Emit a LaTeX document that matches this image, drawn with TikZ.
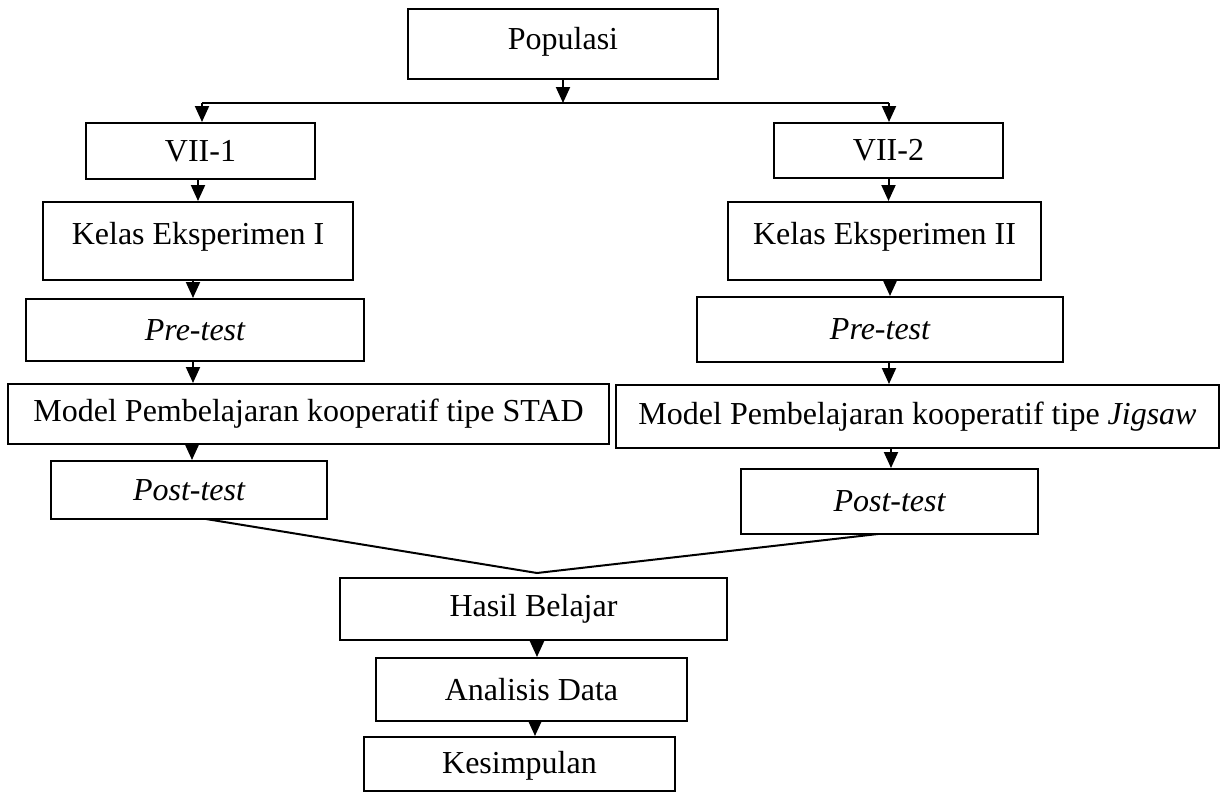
\documentclass[tikz,border=0pt]{standalone}
\usepackage{fontspec}
\setmainfont{Liberation Serif}
\usetikzlibrary{arrows.meta,calc}
\tikzset{
  bx/.style={draw, line width=2pt, rectangle, inner sep=0pt, font=\fontsize{32}{38}\selectfont},
  conn/.style={line width=2pt},
  arr/.style={line width=2pt, -{Triangle[length=16pt,width=14pt]}},
}
\begin{document}
\begin{tikzpicture}[x=1pt,y=-1pt]
\useasboundingbox (0,0) rectangle (1229,792);
\node[bx, minimum width=310pt, minimum height=70pt, text depth=12pt] (pop) at (563,44) {Populasi};
\node[bx, minimum width=229pt, minimum height=56pt] (v1) at (200.5,151) {VII-1};
\node[bx, minimum width=229pt, minimum height=55pt] (v2) at (888.5,150.5) {VII-2};
\node[bx, minimum width=310pt, minimum height=78pt, text depth=16pt] (k1) at (198,241) {Kelas Eksperimen I};
\node[bx, minimum width=313pt, minimum height=78pt, text depth=16pt] (k2) at (884.5,241) {Kelas Eksperimen II};
\node[bx, minimum width=338pt, minimum height=62pt] (p1) at (195,330) {\itshape Pre-test};
\node[bx, minimum width=366pt, minimum height=65pt] (p2) at (880,329.5) {\itshape Pre-test};
\node[bx, minimum width=601pt, minimum height=60pt] (m1) at (308.5,414) {Model Pembelajaran kooperatif tipe STAD};
\node[bx, minimum width=603pt, minimum height=63pt] (m2) at (917.5,416.5) {Model Pembelajaran kooperatif tipe \textit{Jigsaw}};
\node[bx, minimum width=276pt, minimum height=58pt] (o1) at (189,490) {\itshape Post-test};
\node[bx, minimum width=297pt, minimum height=65pt] (o2) at (889.5,501.5) {\itshape Post-test};
\node[bx, minimum width=387pt, minimum height=62pt] (h) at (533.5,609) {Hasil Belajar};
\node[bx, minimum width=311pt, minimum height=63pt] (a) at (531.5,689.5) {Analisis Data};
\node[bx, minimum width=311pt, minimum height=54pt, text height=26pt] (k) at (519.5,764) {Kesimpulan};
% helper columns
\coordinate (jm) at (563,103);
\coordinate (jl) at (202,103);
\coordinate (jr) at (889,103);
\coordinate (xa) at (198,0);
\coordinate (xb) at (193,0);
\coordinate (xc) at (192,0);
\coordinate (xd) at (888.5,0);
\coordinate (xe) at (890,0);
\coordinate (xf) at (889,0);
\coordinate (xg) at (891,0);
\coordinate (xh) at (537,0);
\coordinate (xi) at (535,0);
\coordinate (apex) at (537,573);
\coordinate (o1s) at (206,519);
\coordinate (o2s) at (878,534);
% split
\draw[arr] (pop.south) -- (jm);
\draw[conn] (jl) -- (jr);
\draw[arr] (jl) -- (jl |- v1.north);
\draw[arr] (jr) -- (jr |- v2.north);
% left column
\draw[arr] (xa |- v1.south) -- (xa |- k1.north);
\draw[arr] (xb |- k1.south) -- (xb |- p1.north);
\draw[arr] (xb |- p1.south) -- (xb |- m1.north);
\draw[arr] (xc |- m1.south) -- (xc |- o1.north);
% right column
\draw[arr] (xd |- v2.south) -- (xd |- k2.north);
\draw[arr] (xe |- k2.south) -- (xe |- p2.north);
\draw[arr] (xf |- p2.south) -- (xf |- m2.north);
\draw[arr] (xg |- m2.south) -- (xg |- o2.north);
% merge
\draw[conn] (o1s) -- (apex) -- (o2s);
\draw[arr] (xh |- h.south) -- (xh |- a.north);
\draw[arr] (xi |- a.south) -- (xi |- k.north);
\end{tikzpicture}
\end{document}
